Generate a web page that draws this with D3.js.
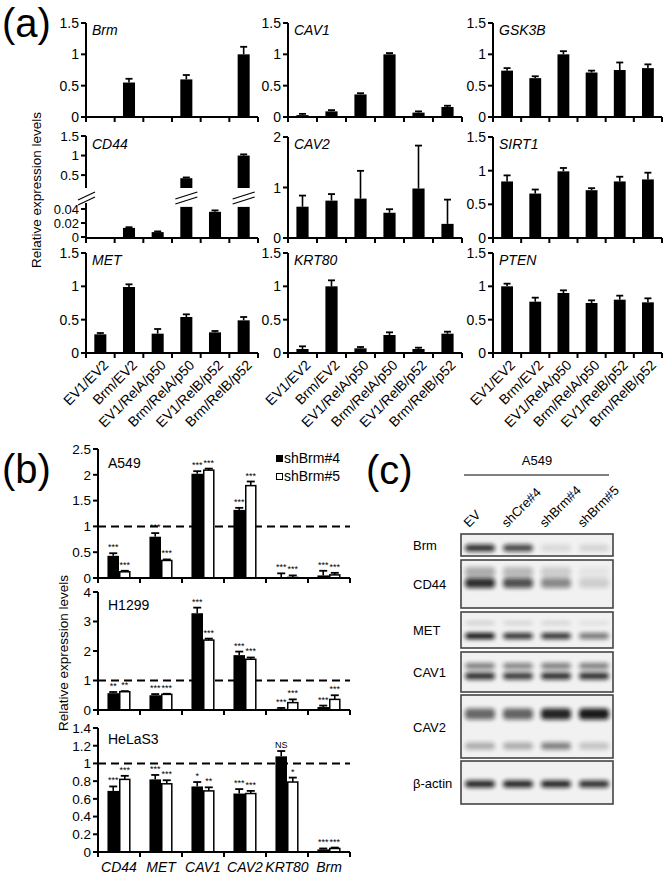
<!DOCTYPE html>
<html><head><meta charset="utf-8">
<script src="https://cdn.jsdelivr.net/npm/d3@7"></script>
<style>body{margin:0;background:#fff}svg{display:block;font-family:Arial,"Liberation Sans",sans-serif}</style>
</head><body><svg id="c" width="670" height="878"></svg>
<script>
// ---------- DATA: panel (a) ----------
const categoriesA = ["EV1/EV2","Brm/EV2","EV1/RelA/p50","Brm/RelA/p50","EV1/RelB/p52","Brm/RelB/p52"];
const genesA = ["Brm","CAV1","GSK3B","CD44","CAV2","SIRT1","MET","KRT80","PTEN"];
const valBrm   = [0,0.55,0,0.6,0,1.0];
const errBrm   = [0,0.61,0,0.67,0,1.12];
const valCAV1  = [0.03,0.09,0.36,1.0,0.07,0.16];
const errCAV1  = [0.05,0.11,0.38,1.02,0.09,0.18];
const valGSK3B = [0.74,0.62,1.0,0.71,0.75,0.78];
const errGSK3B = [0.78,0.65,1.05,0.74,0.87,0.84];
const valCD44  = [0,0.013,0.007,0.42,0.036,1.0];
const errCD44  = [0,0.014,0.008,0.44,0.038,1.03];
const valCAV2  = [0.62,0.74,0.78,0.5,0.98,0.28];
const errCAV2  = [0.84,0.87,1.33,0.57,1.83,0.76];
const valSIRT1 = [0.84,0.66,0.99,0.71,0.84,0.87];
const errSIRT1 = [0.93,0.72,1.04,0.74,0.91,0.97];
const valMET   = [0.28,0.99,0.29,0.54,0.31,0.49];
const errMET   = [0.30,1.03,0.36,0.58,0.33,0.54];
const valKRT80 = [0.06,1.0,0.07,0.27,0.06,0.29];
const errKRT80 = [0.10,1.09,0.09,0.31,0.08,0.32];
const valPTEN  = [1.0,0.77,0.9,0.75,0.8,0.76];
const errPTEN  = [1.04,0.83,0.94,0.79,0.86,0.82];
const ticks15 = [0,0.5,1,1.5];
const ticks2  = [0,1,2];
const ticksCD44Low = [0,0.02,0.04];
const ticksCD44High = [0.5,1,1.5];

// ---------- DATA: panel (b) ----------
const genesB = ["CD44","MET","CAV1","CAV2","KRT80","Brm"];
const seriesB = ["shBrm#4","shBrm#5"];
const cellLines = ["A549","H1299","HeLaS3"];
const a549Sh4 = [0.43,0.80,2.02,1.32,0.01,0.05];
const a549Sh4Err = [0.48,0.87,2.07,1.36,0.09,0.14];
const a549Sh5 = [0.12,0.34,2.09,1.79,0.01,0.06];
const a549Sh5Err = [0.14,0.36,2.12,1.87,0.05,0.10];
const a549Sig4 = ["***","***","***","***","***","***"];
const a549Sig5 = ["***","***","***","***","***","***"];
const h1299Sh4 = [0.57,0.50,3.28,1.86,0.04,0.10];
const h1299Sh4Err = [0.61,0.54,3.47,1.98,0.07,0.15];
const h1299Sh5 = [0.62,0.53,2.37,1.72,0.25,0.36];
const h1299Sh5Err = [0.64,0.55,2.42,1.78,0.36,0.50];
const h1299Sig4 = ["**","***","***","***","***","***"];
const h1299Sig5 = ["**","***","***","***","***","***"];
const helaSh4 = [0.69,0.82,0.74,0.66,1.08,0.03];
const helaSh4Err = [0.74,0.87,0.79,0.71,1.14,0.04];
const helaSh5 = [0.82,0.77,0.69,0.66,0.79,0.04];
const helaSh5Err = [0.86,0.81,0.73,0.69,0.84,0.05];
const helaSig4 = ["***","***","*","***","NS","***"];
const helaSig5 = ["***","***","**","***","*","***"];
const ticksA549 = [0,0.5,1,1.5,2,2.5];
const ticksH1299 = [0,1,2,3,4];
const ticksHela = [0,0.2,0.4,0.6,0.8,1,1.2,1.4];

// ---------- DATA: panel (c) ----------
const lanesC = ["EV","shCre#4","shBrm#4","shBrm#5"];
const proteinsC = ["Brm","CD44","MET","CAV1","CAV2","β-actin"];
const bandBrm = [0.85,0.75,0.10,0.12];
const bandCD44 = [0.85,0.70,0.45,0.15];
const bandMET = [1.0,0.85,0.85,0.55];
const bandCAV1 = [0.85,0.80,0.85,0.85];
const bandCAV2Upper = [0.60,0.62,0.90,0.95];
const bandCAV2Lower = [0.30,0.30,0.50,0.20];
const bandActin = [0.90,0.90,0.90,0.85];

// ---------- DRAW ----------
const svg = d3.select("#c");
const fmt = v => String(+v.toFixed(2));
svg.append("defs").append("filter").attr("id","blur").attr("x","-30%").attr("y","-100%").attr("width","160%").attr("height","300%")
  .append("feGaussianBlur").attr("stdDeviation",2);

// panel letters
svg.append("text").attr("x",2).attr("y",37).attr("font-size",40).text("(a)");
svg.append("text").attr("x",2).attr("y",483).attr("font-size",40).text("(b)");
svg.append("text").attr("x",366).attr("y",484).attr("font-size",40).text("(c)");

const colsA = [[86,258],[288,462],[493,662]];
const rowsA = [{top:23,bottom:117},{top:137,bottom:238},{top:253,bottom:353}];
const dataA = {
  Brm:[valBrm,errBrm,1.5,ticks15], CAV1:[valCAV1,errCAV1,1.5,ticks15], GSK3B:[valGSK3B,errGSK3B,1.5,ticks15],
  CD44:[valCD44,errCD44,1.5,null], CAV2:[valCAV2,errCAV2,2,ticks2], SIRT1:[valSIRT1,errSIRT1,1.5,ticks15],
  MET:[valMET,errMET,1.5,ticks15], KRT80:[valKRT80,errKRT80,1.5,ticks15], PTEN:[valPTEN,errPTEN,1.5,ticks15]
};

function xAxisBoundaries(g, x, yPos, n, len){
  const r = x.range();
  g.append("line").attr("x1",r[0]).attr("x2",r[1]).attr("y1",yPos).attr("y2",yPos).attr("stroke","#000").attr("stroke-width",2);
  const step = x.step();
  for(let i=0;i<=n;i++){
    const xx = r[0]+i*step;
    g.append("line").attr("x1",xx).attr("x2",xx).attr("y1",yPos).attr("y2",yPos+len).attr("stroke","#000").attr("stroke-width",2);
  }
}
function yTicks(g, y, xPos, ticks, fs){
  ticks.forEach(t=>{
    g.append("line").attr("x1",xPos-5).attr("x2",xPos).attr("y1",y(t)).attr("y2",y(t)).attr("stroke","#000").attr("stroke-width",2);
    g.append("text").attr("x",xPos-7).attr("y",y(t)+fs*0.36).attr("text-anchor","end").attr("font-size",fs).text(fmt(t));
  });
}
function errBar(g, cx, y0, y1, cap){
  g.append("line").attr("x1",cx).attr("x2",cx).attr("y1",y0).attr("y2",y1).attr("stroke","#000").attr("stroke-width",1.6);
  g.append("line").attr("x1",cx-cap/2).attr("x2",cx+cap/2).attr("y1",y1).attr("y2",y1).attr("stroke","#000").attr("stroke-width",1.8);
}

genesA.forEach((gene,i)=>{
  const col = colsA[i%3], row = rowsA[Math.floor(i/3)];
  const [vals, errs, ymax, ticks] = dataA[gene];
  const g = svg.append("g");
  const x = d3.scaleBand().domain(categoriesA).range(col).paddingInner(0.58).paddingOuter(0.29);
  const bw = x.bandwidth();
  if(gene !== "CD44"){
    const y = d3.scaleLinear().domain([0,ymax]).range([row.bottom,row.top]);
    g.append("line").attr("x1",col[0]).attr("x2",col[0]).attr("y1",row.bottom).attr("y2",row.top).attr("stroke","#000").attr("stroke-width",2);
    yTicks(g,y,col[0],ticks,14);
    vals.forEach((v,j)=>{
      if(v<=0) return;
      const cx = x(categoriesA[j])+bw/2;
      errBar(g,cx,y(v),y(errs[j]),7);
      g.append("rect").attr("x",x(categoriesA[j])).attr("y",y(v)).attr("width",bw).attr("height",y(0)-y(v)).attr("fill","#000");
    });
  } else {
    const yLow = d3.scaleLinear().domain([0,0.05]).range([row.bottom-1,202]);
    const yHigh = d3.scaleLinear().domain([0.17,1.5]).range([188,row.top-1]);
    g.append("line").attr("x1",col[0]).attr("x2",col[0]).attr("y1",row.bottom-1).attr("y2",203).attr("stroke","#000").attr("stroke-width",2);
    g.append("line").attr("x1",col[0]).attr("x2",col[0]).attr("y1",188).attr("y2",row.top-1).attr("stroke","#000").attr("stroke-width",2);
    yTicks(g,yLow,col[0],ticksCD44Low,13);
    yTicks(g,yHigh,col[0],ticksCD44High,13.5);
    g.append("line").attr("x1",col[0]-8).attr("x2",col[0]+9).attr("y1",200).attr("y2",192).attr("stroke","#000").attr("stroke-width",1.3);
    g.append("line").attr("x1",col[0]-8).attr("x2",col[0]+9).attr("y1",205).attr("y2",197).attr("stroke","#000").attr("stroke-width",1.3);
    vals.forEach((v,j)=>{
      if(v<=0) return;
      const x0 = x(categoriesA[j]), cx = x0+bw/2;
      if(v<=0.05){
        g.append("rect").attr("x",x0).attr("y",yLow(v)).attr("width",bw).attr("height",yLow(0)-yLow(v)).attr("fill","#000");
        errBar(g,cx,yLow(v),yLow(errs[j]),7);
      } else {
        g.append("rect").attr("x",x0).attr("y",yLow(0.043)).attr("width",bw).attr("height",yLow(0)-yLow(0.043)).attr("fill","#000");
        g.append("rect").attr("x",x0).attr("y",yHigh(v)).attr("width",bw).attr("height",yHigh(0.17)-yHigh(v)).attr("fill","#000");
        errBar(g,cx,yHigh(v),yHigh(errs[j]),7);
        g.append("line").attr("x1",x0-5).attr("x2",x0+bw+5).attr("y1",199).attr("y2",192).attr("stroke","#000").attr("stroke-width",1.3);
        g.append("line").attr("x1",x0-5).attr("x2",x0+bw+5).attr("y1",204).attr("y2",197).attr("stroke","#000").attr("stroke-width",1.3);
      }
    });
  }
  xAxisBoundaries(g,x,row.bottom,categoriesA.length,5);
  g.append("text").attr("x",col[0]+6).attr("y",row.top+12).attr("font-size",14).attr("font-style","italic").text(gene);
  if(i>=6){
    categoriesA.forEach(c=>{
      const cx = x(c)+bw/2+9, cy = row.bottom+13;
      g.append("text").attr("transform",`translate(${cx},${cy}) rotate(-45)`).attr("text-anchor","end").attr("font-size",14).text(c);
    });
  }
});
svg.append("text").attr("transform","translate(41,190) rotate(-90)").attr("text-anchor","middle").attr("font-size",13.5).text("Relative expression levels");

// ---------- panel (b) ----------
const xB = d3.scaleBand().domain(genesB).range([98,350]).paddingInner(0.45).paddingOuter(0.225);
const xS = d3.scaleBand().domain(seriesB).range([0,xB.bandwidth()]);
const subB = [
  {name:"A549", domain:2.5, range:[578,449], ticks:ticksA549, s4:a549Sh4,e4:a549Sh4Err,s5:a549Sh5,e5:a549Sh5Err,g4:a549Sig4,g5:a549Sig5, ly:468},
  {name:"H1299", domain:4, range:[710,592], ticks:ticksH1299, s4:h1299Sh4,e4:h1299Sh4Err,s5:h1299Sh5,e5:h1299Sh5Err,g4:h1299Sig4,g5:h1299Sig5, ly:610},
  {name:"HeLaS3", domain:1.4, range:[852,728], ticks:ticksHela, s4:helaSh4,e4:helaSh4Err,s5:helaSh5,e5:helaSh5Err,g4:helaSig4,g5:helaSig5, ly:744}
];
subB.forEach(sp=>{
  const g = svg.append("g");
  const y = d3.scaleLinear().domain([0,sp.domain]).range(sp.range);
  g.append("line").attr("x1",98).attr("x2",98).attr("y1",sp.range[0]).attr("y2",sp.range[1]).attr("stroke","#000").attr("stroke-width",2);
  yTicks(g,y,98,sp.ticks,13.5);
  g.append("line").attr("x1",98).attr("x2",350).attr("y1",y(1)).attr("y2",y(1)).attr("stroke","#000").attr("stroke-width",2).attr("stroke-dasharray","8,5");
  genesB.forEach((gn,j)=>{
    [[seriesB[0],sp.s4,sp.e4,sp.g4,"#000"],[seriesB[1],sp.s5,sp.e5,sp.g5,"#fff"]].forEach(([s,vals,errs,sig,fill])=>{
      const x0 = xB(gn)+xS(s), w = xS.bandwidth(), v = vals[j];
      errBar(g,x0+w/2,y(v),y(errs[j]),8);
      g.append("rect").attr("x",x0+(fill==="#fff"?0.75:0)).attr("y",y(v)).attr("width",w-(fill==="#fff"?1.5:0)).attr("height",y(0)-y(v))
        .attr("fill",fill).attr("stroke","#000").attr("stroke-width",fill==="#fff"?1.5:0);
      g.append("text").attr("x",x0+w/2).attr("y",y(errs[j])-3).attr("text-anchor","middle").attr("font-size",9).text(sig[j]);
    });
  });
  xAxisBoundaries(g,xB,sp.range[0],genesB.length,5);
  g.append("text").attr("x",108).attr("y",sp.ly).attr("font-size",14).text(sp.name);
});
genesB.forEach(gn=>{
  svg.append("text").attr("x",xB(gn)+xB.bandwidth()/2).attr("y",872).attr("text-anchor","middle").attr("font-size",14).attr("font-style","italic").text(gn);
});
svg.append("text").attr("transform","translate(68,653) rotate(-90)").attr("text-anchor","middle").attr("font-size",13.5).text("Relative expression levels");
// legend
svg.append("rect").attr("x",276).attr("y",455).attr("width",7).attr("height",7).attr("fill","#000");
svg.append("text").attr("x",284).attr("y",463).attr("font-size",14).text(seriesB[0]);
svg.append("rect").attr("x",276.5).attr("y",473.5).attr("width",6).attr("height",6).attr("fill","#fff").attr("stroke","#000").attr("stroke-width",1);
svg.append("text").attr("x",284).attr("y",481).attr("font-size",14).text(seriesB[1]);

// ---------- panel (c) ----------
const gC = svg.append("g");
gC.append("text").attr("x",537).attr("y",465).attr("text-anchor","middle").attr("font-size",13).text("A549");
gC.append("line").attr("x1",464).attr("x2",609).attr("y1",475).attr("y2",475).attr("stroke","#555").attr("stroke-width",1.5);
const xL = d3.scalePoint().domain(lanesC).range([461,613]).padding(0.5);
lanesC.forEach(l=>{
  gC.append("text").attr("transform",`translate(${xL(l)-11},${528}) rotate(-45)`).attr("font-size",13).text(l);
});
const blotRows = [
  {name:proteinsC[0], y0:534, y1:556, bands:[{cy:548,h:7,vals:bandBrm}]},
  {name:proteinsC[1], y0:560, y1:608, bands:[{cy:572,h:10,vals:bandCD44.map(v=>v*0.35)},{cy:583,h:10,vals:bandCD44}]},
  {name:proteinsC[2], y0:612, y1:648, bands:[{cy:623,h:4,vals:bandMET.map(v=>v*0.15)},{cy:636,h:6,vals:bandMET}]},
  {name:proteinsC[3], y0:652, y1:692, bands:[{cy:666,h:6,vals:bandCAV1.map(v=>v*0.6)},{cy:676,h:7,vals:bandCAV1}]},
  {name:proteinsC[4], y0:695, y1:758, bands:[{cy:714,h:11,vals:bandCAV2Upper},{cy:746,h:7,vals:bandCAV2Lower}]},
  {name:proteinsC[5], y0:761, y1:804, bands:[{cy:784,h:7,vals:bandActin}]}
];
blotRows.forEach(r=>{
  gC.append("rect").attr("x",461).attr("y",r.y0).attr("width",152).attr("height",r.y1-r.y0).attr("fill","#f1f1f1").attr("stroke","#444").attr("stroke-width",1.6);
  const clipId = "clip"+r.y0;
  svg.select("defs").append("clipPath").attr("id",clipId).append("rect").attr("x",462).attr("y",r.y0+1).attr("width",150).attr("height",r.y1-r.y0-2);
  const gb = gC.append("g").attr("clip-path",`url(#${clipId})`);
  r.bands.forEach(b=>{
    b.vals.forEach((v,k)=>{
      gb.append("rect").attr("x",xL(lanesC[k])-15).attr("y",b.cy-b.h/2).attr("width",30).attr("height",b.h).attr("rx",4)
        .attr("fill","#111").attr("opacity",v).attr("filter","url(#blur)");
    });
  });
  gC.append("text").attr("x",413).attr("y",(r.y0+r.y1)/2+5).attr("font-size",13).text(r.name);
});
</script></body></html>
